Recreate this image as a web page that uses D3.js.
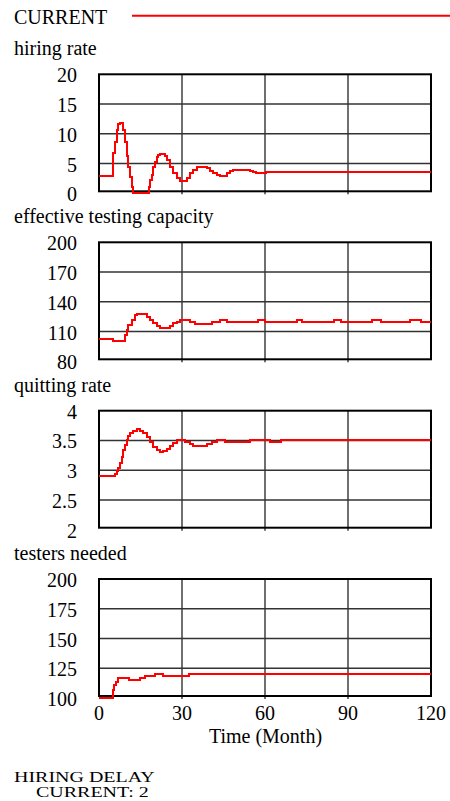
<html>
  <head>
    <meta charset="utf-8">
    <title>HIRING DELAY</title>
    <script src="https://d3js.org/d3.v7.min.js"></script>
    <style>
      body { margin: 0; background: #fff; }
      text { font-family: 'Liberation Serif', 'Times New Roman', serif; font-size: 20px; fill: #000; }
    </style>
  </head>
  <body>
    <script>
      // time axis
      var months = [0, 30, 60, 90, 120];
      var runName = "CURRENT";

      // panel titles and y ticks
      var titles = ["hiring rate", "effective testing capacity", "quitting rate", "testers needed"];
      var hiringTicks = [0, 5, 10, 15, 20];
      var capacityTicks = [80, 110, 140, 170, 200];
      var quittingTicks = [2, 2.5, 3, 3.5, 4];
      var testersTicks = [100, 125, 150, 175, 200];

      // series, [month, value]
      var hiringRate = [[0,2.9],[4.6,2.9],[4.9,6.7],[5.8,8.7],[6.4,10.6],[7,11.6],[7.6,11.8],[8.4,11.8],[8.8,10.6],
        [9.4,8.7],[10,6.2],[10.6,4.5],[11.2,2.8],[11.8,1.1],[12.4,0],[17.5,0],[18,1.1],[18.4,2.2],[19,3.1],
        [19.6,4.5],[20.2,5.2],[20.8,6.1],[21.4,6.4],[22,6.6],[23,6.6],[23.9,6.2],[24.5,5.6],[25.7,4.5],
        [26.9,3.4],[28.1,2.5],[29.3,2.0],[30.5,2.1],[31.7,2.6],[32.9,3.4],[34.1,4.0],[35.3,4.5],[37.7,4.5],
        [38.9,4.2],[40.1,3.8],[41.3,3.4],[42.5,3.0],[43.7,2.9],[44.9,2.9],[46.1,3.4],[47.3,3.8],[48.4,4.0],
        [53.3,4.0],[54.5,3.8],[55.6,3.6],[56.8,3.4],[59.2,3.4],[60.4,3.6],[120,3.6]];
      var testingCapacity = [[0,102],[4.9,100],[8.8,100],[9.4,106.5],[10,111.6],[10.6,116.7],[11.8,121.7],
        [13,126.7],[13.6,127.7],[16,127.7],[17.2,125],[18.4,121.7],[19.6,118.4],[20.8,116],[22,114],[24.5,114],
        [25.7,116],[26.9,118.4],[28.1,120],[29.3,121.7],[31.7,121.7],[32.9,119.4],[34.7,118],[40.1,118],
        [40.7,119.4],[43.1,119.4],[43.7,122],[44.9,122],[46.1,120],[57.4,122],[60,120],[71.4,122],[73.2,120],
        [84.8,122],[87.6,120],[98.8,122],[102,120],[112.5,122],[116.5,120],[120,120]];
      var quittingRate = [[0,2.9],[4.9,2.9],[5.8,2.94],[6.4,2.98],[7,3.03],[7.6,3.12],[8.2,3.23],[8.8,3.34],
        [9.4,3.43],[10,3.51],[10.6,3.57],[11.2,3.62],[12.4,3.66],[13.6,3.69],[14.8,3.66],[16,3.62],[17.2,3.56],
        [18.4,3.47],[19.6,3.39],[20.8,3.34],[22,3.31],[23.3,3.32],[24.5,3.36],[25.7,3.4],[26.9,3.46],[28.1,3.5],
        [29.9,3.51],[31.1,3.48],[32.9,3.44],[34.1,3.41],[37.7,3.41],[38.9,3.44],[40.7,3.47],[42.5,3.5],
        [44.9,3.5],[45.5,3.47],[54,3.47],[54.6,3.5],[61.7,3.5],[61.8,3.47],[65.7,3.47],[65.8,3.5],[120,3.5]];
      var testersNeeded = [[0,100],[4.6,100],[4.9,106.7],[5.4,111],[6.1,113.8],[7,116.5],[7.6,117],[11,115],
        [14.8,116.5],[16.6,118.4],[20.2,120],[23.3,118.4],[32.6,120],[120,120]];

      var width = 450, height = 801;
      var left = 99, right = 431;
      var tops = [74.3, 242.3, 410.7, 579];
      var panels = [
        { title: titles[0], ticks: hiringTicks, data: hiringRate },
        { title: titles[1], ticks: capacityTicks, data: testingCapacity },
        { title: titles[2], ticks: quittingTicks, data: quittingRate },
        { title: titles[3], ticks: testersTicks, data: testersNeeded }
      ];

      var svg = d3.select("body").append("svg")
        .attr("width", width)
        .attr("height", height);

      var x = d3.scaleLinear().domain([0, 120]).range([left, right]);

      // legend
      svg.append("text").attr("x", 14).attr("y", 24).text(runName);
      svg.append("line")
        .attr("x1", 132).attr("x2", 450).attr("y1", 15.7).attr("y2", 15.7)
        .attr("stroke", "#ff0000").attr("stroke-width", 2);

      panels.forEach(function(p, i) {
        var top = tops[i];
        var y = d3.scaleLinear().domain(d3.extent(p.ticks)).range([top + 119, top]);
        var g = svg.append("g");

        g.append("text").attr("x", 14).attr("y", top - 19).text(p.title);

        // grid
        g.selectAll(".hg").data(p.ticks.slice(1, -1)).enter().append("line")
          .attr("x1", left).attr("x2", right)
          .attr("y1", function(d) { return y(d); }).attr("y2", function(d) { return y(d); })
          .attr("stroke", "#333").attr("stroke-width", 1.4);
        g.selectAll(".vg").data(months.slice(1, -1)).enter().append("line")
          .attr("x1", function(d) { return x(d); }).attr("x2", function(d) { return x(d); })
          .attr("y1", top).attr("y2", top + 120)
          .attr("stroke", "#333").attr("stroke-width", 1.4);

        g.append("rect")
          .attr("x", left).attr("y", top)
          .attr("width", right - left).attr("height", 117)
          .attr("fill", "none").attr("stroke", "#000").attr("stroke-width", 2);

        // y tick labels
        g.selectAll(".yl").data(p.ticks).enter().append("text")
          .attr("x", 77).attr("y", function(d) { return y(d) + 8; })
          .attr("text-anchor", "end")
          .text(function(d) { return d; });

        var line = d3.line()
          .x(function(d) { return x(d[0]); })
          .y(function(d) { return y(d[1]); })
          .curve(d3.curveStepAfter);

        g.append("path")
          .datum(p.data)
          .attr("d", line)
          .attr("fill", "none")
          .attr("stroke", "#ff0000")
          .attr("stroke-width", 2)
          .attr("shape-rendering", "crispEdges");
      });

      // x axis labels
      svg.selectAll(".xl").data(months).enter().append("text")
        .attr("x", function(d) { return x(d); }).attr("y", 720)
        .attr("text-anchor", "middle")
        .text(function(d) { return d; });
      svg.append("text").attr("x", 265.5).attr("y", 743)
        .attr("text-anchor", "middle").text("Time (Month)");

      // run note, squeezed vertically like the original
      svg.append("text").attr("transform", "translate(14,782) scale(1,0.72)").text("HIRING DELAY");
      svg.append("text").attr("transform", "translate(36,797) scale(1,0.72)").text("CURRENT: 2");
    </script>
  </body>
</html>
